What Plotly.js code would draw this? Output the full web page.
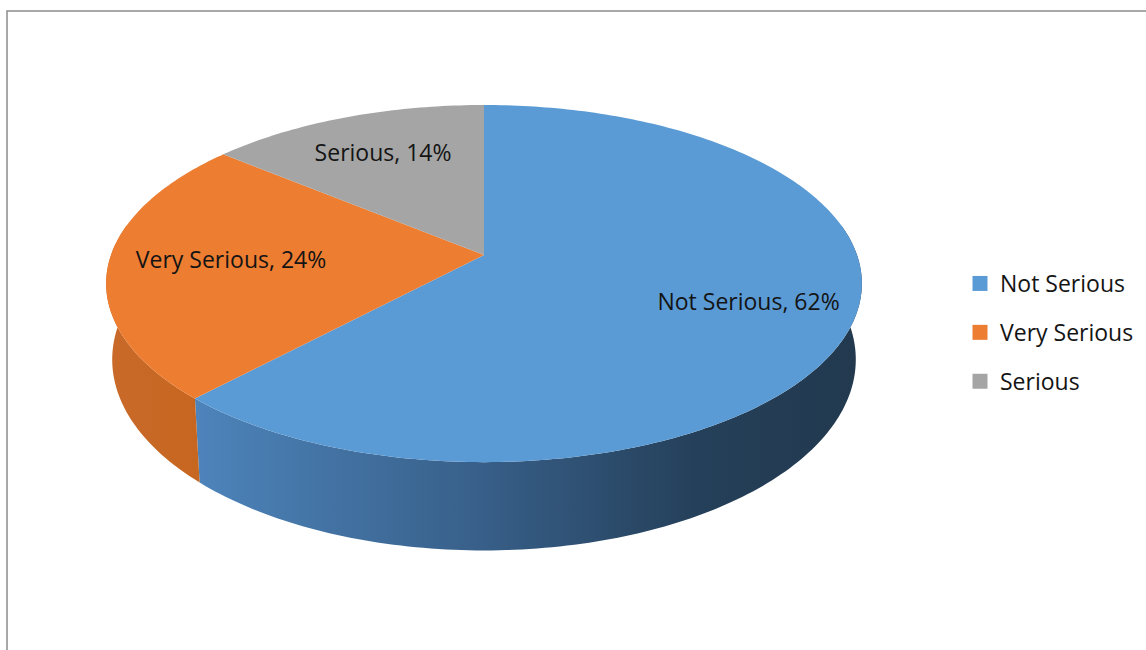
<!DOCTYPE html>
<html>
<head>
<meta charset="utf-8">
<script src="https://cdn.plot.ly/plotly-3.0.1.min.js"></script>
<style>html,body{margin:0;padding:0;background:#fff;}#chart{width:1146px;height:650px;}</style>
</head>
<body>
<div id="chart"></div>
<script>
// ---- data ----
const categories = ['Not Serious', 'Very Serious', 'Serious'];
const values = [62, 24, 14];

// ---- styles ----
const topColors = ['#5B9BD5', '#ED7D31', '#A5A5A5'];
const wallScales = [
  [[0, '#4d84bb'], [0.42, '#38608a'], [0.75, '#25405a'], [1, '#22394e']],
  [[0, '#c96a2b'], [1, '#c6661f']],
  [[0, '#8a8a8a'], [1, '#8a8a8a']]
];
const wallFlat = ['#38608a', '#c8682a', '#8a8a8a'];
const labelRadius = [0.73, 0.675, 0.70];

// ---- projection geometry (pixel space) ----
const CX = 484, CY = 255, TA = 174, TB = 373, PB = 0.16;   // top face
const BCY = 329, BA = 186, BB = 367;                        // bottom face
const VIS_LO = 80, VIS_HI = 280;                            // visible wall angles

function rad(d) { return d * Math.PI / 180; }
function topPt(deg, r) {
  const X = r * Math.sin(rad(deg)), Z = r * Math.cos(rad(deg));
  const w = 1 + PB * Z;
  return [CX + TB * X / w, CY - TA * Z / w];
}
function botPt(deg) {
  const X = Math.sin(rad(deg)), Z = Math.cos(rad(deg));
  const w = 1 + PB * Z;
  return [CX + BB * X / w, BCY - BA * Z / w];
}
function arcDegs(a, b) {
  const out = [];
  for (let d = a; d < b; d += 1) out.push(d);
  out.push(b);
  return out;
}

const total = values.reduce((s, v) => s + v, 0);
const starts = [], ends = [];
let acc = 0;
values.forEach(v => { starts.push(acc / total * 360); acc += v; ends.push(acc / total * 360); });

const traces = [];

// side walls
values.forEach((v, i) => {
  const lo = Math.max(starts[i], VIS_LO), hi = Math.min(ends[i], VIS_HI);
  if (lo >= hi) return;
  const xs = [], ys = [];
  arcDegs(lo, hi).forEach(d => { const p = topPt(d, 1); xs.push(p[0]); ys.push(p[1]); });
  arcDegs(lo, hi).reverse().forEach(d => { const p = botPt(d); xs.push(p[0]); ys.push(p[1]); });
  xs.push(xs[0]); ys.push(ys[0]);
  const xmin = Math.min(...xs), xmax = Math.max(...xs);
  traces.push({
    type: 'scatter', mode: 'none', x: xs, y: ys, fill: 'toself',
    fillcolor: wallFlat[i],
    fillgradient: { type: 'horizontal', colorscale: wallScales[i], start: xmin, stop: xmax },
    showlegend: false, hoverinfo: 'skip'
  });
});

// top faces
values.forEach((v, i) => {
  const xs = [CX], ys = [CY];
  arcDegs(starts[i], ends[i]).forEach(d => { const p = topPt(d, 1); xs.push(p[0]); ys.push(p[1]); });
  xs.push(CX); ys.push(CY);
  traces.push({
    type: 'scatter', mode: 'none', x: xs, y: ys, fill: 'toself',
    fillcolor: topColors[i], line: { width: 0 },
    showlegend: false, hoverinfo: 'skip'
  });
});

// data labels
const lx = [], ly = [], lt = [];
values.forEach((v, i) => {
  const p = topPt((starts[i] + ends[i]) / 2, labelRadius[i]);
  lx.push(p[0]); ly.push(p[1]);
  lt.push(categories[i] + ', ' + Math.round(v / total * 100) + '%');
});
traces.push({
  type: 'scatter', mode: 'text', x: lx, y: ly, text: lt,
  textposition: 'middle center',
  textfont: { family: 'Open Sans, sans-serif', size: 23, color: '#141414' },
  showlegend: false, hoverinfo: 'skip'
});

// legend entries
categories.forEach((c, i) => {
  traces.push({
    type: 'scatter', mode: 'markers', x: [null], y: [null], name: c,
    legendgroup: 'g' + i,
    marker: { symbol: 'square', size: 15, color: topColors[i] }
  });
});

const layout = {
  width: 1146, height: 650,
  margin: { l: 0, r: 0, t: 0, b: 0, pad: 0 },
  paper_bgcolor: '#ffffff', plot_bgcolor: '#ffffff',
  xaxis: { range: [0, 1146], visible: false, fixedrange: true },
  yaxis: { range: [650, 0], visible: false, fixedrange: true },
  showlegend: true,
  hovermode: false,
  legend: {
    x: 960 / 1146, xanchor: 'left', y: 1 - 262 / 650, yanchor: 'top',
    font: { family: 'Open Sans, sans-serif', size: 23, color: '#141414' },
    tracegroupgap: 16, bgcolor: 'rgba(0,0,0,0)'
  },
  shapes: [{
    type: 'rect', xref: 'x', yref: 'y', x0: 7, y0: 11, x1: 1170, y1: 680,
    line: { color: '#8c8c8c', width: 1.5 }, fillcolor: 'rgba(0,0,0,0)', layer: 'above'
  }]
};

Plotly.newPlot('chart', traces, layout, { displayModeBar: false, staticPlot: true });
</script>
</body>
</html>
